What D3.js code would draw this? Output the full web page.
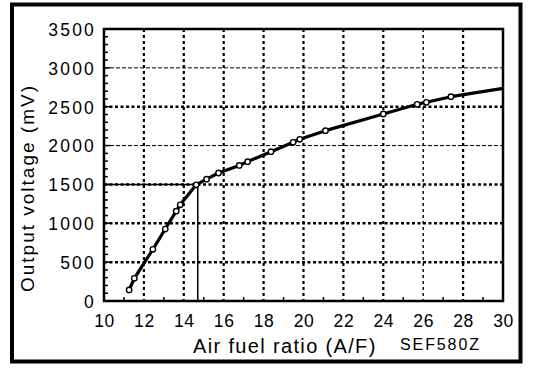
<!DOCTYPE html>
<html>
<head>
<meta charset="utf-8">
<script src="https://cdn.jsdelivr.net/npm/d3@7"></script>
<style>
  body { margin: 0; background: #fff; }
  text { font-family: "Liberation Sans", Arial, sans-serif; fill: #000; }
</style>
</head>
<body>
<div id="chart"></div>
<script>
// measured points (open circles) on the sensor curve
var markerAfr = [11.26, 11.52, 12.45, 13.07, 13.62, 13.82, 14.62, 15.14, 15.74, 16.78, 17.2, 18.37, 19.48, 19.81, 21.1, 24.0, 25.7, 26.16, 27.39];
var markerMv  = [142, 292, 665, 926, 1156, 1237, 1495, 1568, 1647, 1745, 1793, 1921, 2042, 2081, 2192, 2406, 2531, 2557, 2629];
// the line runs on to the right edge of the plot
var curveEndAfr = 30;
var curveEndMv = 2737;

var stoichAfr = 14.7;
var stoichMv = 1500;

var xTicks = [10, 12, 14, 16, 18, 20, 22, 24, 26, 28, 30];
var yTicks = [0, 500, 1000, 1500, 2000, 2500, 3000, 3500];

var width = 544, height = 368;
// plot box (window.top is reserved, so p-prefixed names)
var pLeft = 104, pRight = 503, pTop = 29, pBottom = 301;

var svg = d3.select("#chart").append("svg")
    .attr("width", width)
    .attr("height", height);

var x = d3.scaleLinear().domain([10, 30]).range([pLeft, pRight]);
var y = d3.scaleLinear().domain([0, 3500]).range([pBottom, pTop]);

// outer frame
svg.append("rect")
    .attr("x", 12).attr("y", 4.5)
    .attr("width", 508.5).attr("height", 357)
    .attr("fill", "none").attr("stroke", "#000").attr("stroke-width", 4);

// grid lines
var grid = svg.append("g");
grid.selectAll("line.vg")
    .data(xTicks.slice(1, -1))
    .enter().append("line")
    .attr("class", "vg")
    .attr("x1", function(d) { return x(d); })
    .attr("x2", function(d) { return x(d); })
    .attr("y1", pTop).attr("y2", pBottom)
    .attr("stroke", "#000")
    .attr("stroke-width", function(d) { return d === 26 ? 1.4 : 2.2; })
    .attr("stroke-dasharray", "3,3");

grid.selectAll("line.hg")
    .data(yTicks.slice(1, -1))
    .enter().append("line")
    .attr("class", "hg")
    .attr("x1", pLeft).attr("x2", pRight)
    .attr("y1", function(d) { return y(d); })
    .attr("y2", function(d) { return y(d); })
    .attr("stroke", "#000")
    .attr("stroke-width", function(d) { return (d === 2000 || d === 3000) ? 1 : 2.5; })
    .attr("stroke-dasharray", function(d) { return (d === 2000 || d === 3000) ? "4,2" : "3,2.5"; });

// minor ticks
var minorY = d3.range(100, 3500, 100);
svg.append("g").selectAll("line")
    .data(minorY)
    .enter().append("line")
    .attr("x1", pLeft).attr("x2", function(d) { return d % 500 === 0 ? pLeft + 6 : pLeft + 4; })
    .attr("y1", function(d) { return y(d); })
    .attr("y2", function(d) { return y(d); })
    .attr("stroke", "#000").attr("stroke-width", 1.5);

var minorX = d3.range(11, 30, 2);
svg.append("g").selectAll("line")
    .data(minorX)
    .enter().append("line")
    .attr("x1", function(d) { return x(d); })
    .attr("x2", function(d) { return x(d); })
    .attr("y1", pBottom).attr("y2", pBottom - 4)
    .attr("stroke", "#000").attr("stroke-width", 1.5);

// plot frame
svg.append("rect")
    .attr("x", pLeft).attr("y", pTop)
    .attr("width", pRight - pLeft).attr("height", pBottom - pTop)
    .attr("fill", "none").attr("stroke", "#000").attr("stroke-width", 2.5);

// stoichiometric reference lines
svg.append("path")
    .attr("d", "M" + x(10) + "," + y(stoichMv) + "H" + x(stoichAfr) + "V" + y(0))
    .attr("fill", "none").attr("stroke", "#000").attr("stroke-width", 1.5);

// curve
var curve = markerAfr.map(function(d, i) { return [d, markerMv[i]]; });
curve.push([curveEndAfr, curveEndMv]);

var line = d3.line()
    .x(function(d) { return x(d[0]); })
    .y(function(d) { return y(d[1]); });

svg.append("path")
    .datum(curve)
    .attr("d", line)
    .attr("fill", "none").attr("stroke", "#000")
    .attr("stroke-width", 3.2).attr("stroke-linejoin", "round");

svg.append("g").selectAll("circle")
    .data(markerAfr)
    .enter().append("circle")
    .attr("cx", function(d) { return x(d); })
    .attr("cy", function(d, i) { return y(markerMv[i]); })
    .attr("r", 2.7)
    .attr("fill", "#fff").attr("stroke", "#000").attr("stroke-width", 1.4);

// axes (labels only)
var xAxis = svg.append("g")
    .attr("transform", "translate(0," + pBottom + ")")
    .call(d3.axisBottom(x).tickValues(xTicks).tickSize(0).tickPadding(0));
xAxis.select(".domain").remove();
xAxis.selectAll("text")
    .attr("dy", null).attr("y", 26)
    .style("font-size", "17.5px").style("letter-spacing", "0.6px");

var yAxis = svg.append("g")
    .attr("transform", "translate(" + pLeft + ",0)")
    .call(d3.axisLeft(y).tickValues(yTicks).tickFormat(d3.format("d")).tickSize(0).tickPadding(0));
yAxis.select(".domain").remove();
yAxis.selectAll("text")
    .attr("x", -8).attr("dy", "0.36em")
    .style("font-size", "17.5px").style("letter-spacing", "2.2px");

// axis titles
svg.append("text")
    .attr("transform", "translate(34,188) rotate(-90)")
    .attr("text-anchor", "middle")
    .style("font-size", "19px").style("letter-spacing", "2px")
    .text("Output voltage (mV)");

svg.append("text")
    .attr("x", 193).attr("y", 353)
    .style("font-size", "20px").style("letter-spacing", "1.35px")
    .text("Air fuel ratio (A/F)");

svg.append("text")
    .attr("x", 400).attr("y", 350)
    .style("font-size", "16px").style("letter-spacing", "1.9px")
    .text("SEF580Z");
</script>
</body>
</html>
